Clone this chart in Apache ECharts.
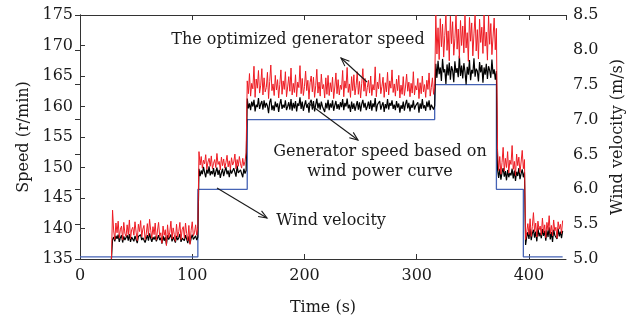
<!DOCTYPE html>
<html>
<head>
<meta charset="utf-8">
<script src="https://cdn.jsdelivr.net/npm/echarts@6/dist/echarts.min.js"></script>
<style>html,body{margin:0;background:#fff}#main{width:639px;height:321px}</style>
</head>
<body>
<div id="main"></div>
<script>
// sampled every 1 s starting at t = 28 s
const sampleStart = 28;
const sampleStep = 1;

// optimized generator speed (r/min)
const optimizedSpeed = [
  135, 143.0, 139.6, 138.2, 140.9, 139.3, 141.2, 138.5, 139.9, 140.4, 138.1, 141.0, 139.2,
  138.7, 140.6, 139.0, 141.4, 138.3, 139.8, 140.2, 138.9, 141.1, 139.4, 138.0, 140.7, 139.5,
  141.3, 138.6, 139.9, 140.5, 138.2, 139.1, 140.8, 138.8, 141.5, 139.7, 138.4, 140.3, 139.0,
  140.9, 138.1, 139.6, 141.0, 138.7, 139.3, 137.6, 140.4, 138.9, 139.8, 137.2, 140.6, 138.5,
  139.4, 141.2, 138.3, 140.1, 139.0, 137.9, 140.7, 138.6, 139.5, 141.0, 138.2, 139.8, 140.3,
  138.4, 140.9, 139.2, 138.0, 140.5, 137.4, 139.7, 141.1, 138.8, 139.3, 140.6, 138.9, 140.2,
  152.6, 150.4, 151.8, 149.9, 151.2, 150.6, 152.1, 149.7, 150.9, 151.5, 150.2, 151.9, 149.8, 150.7, 151.3,
  150.0, 152.3, 150.5, 151.0, 149.6, 151.7, 150.3, 151.4, 149.9, 150.8, 152.0, 150.1, 151.1, 149.7, 151.6,
  150.4, 150.9, 152.2, 149.8, 151.3, 150.2, 151.8, 150.6, 149.9, 151.5, 150.3, 151.0, 152.4,
  164.2, 162.1, 165.4, 161.7, 163.8, 162.9, 166.6, 161.5, 164.5, 163.0, 165.9, 162.2,
  163.5, 166.2, 161.9, 164.7, 162.4, 163.1, 165.6, 161.3, 164.1, 166.8, 162.6, 163.7,
  161.8, 165.1, 162.7, 164.4, 161.4, 163.6, 166.0, 162.0, 164.2, 162.8, 165.7, 161.6,
  163.2, 164.9, 162.5, 166.3, 161.9, 163.8, 162.3, 165.2, 161.6, 164.0, 163.1, 166.7,
  162.1, 164.6, 161.8, 163.3, 165.8, 162.6, 164.3, 161.2, 163.9, 165.0, 162.4, 164.8,
  161.5, 163.4, 166.1, 162.2, 164.0, 161.7, 165.3, 162.9, 163.6, 161.4, 164.7, 162.0,
  165.1, 161.8, 163.9, 162.4, 164.8, 161.3, 163.2, 165.5, 162.1, 164.4, 161.9, 163.5,
  162.8, 165.9, 161.6, 164.2, 163.0, 166.4, 162.3, 163.7, 161.5, 164.9, 162.6, 165.2,
  161.9, 163.4, 165.7, 162.0, 164.1, 161.4, 163.8, 166.2, 162.5, 164.6, 161.7, 163.1,
  164.3, 162.2, 165.0, 161.8, 163.6, 162.7, 166.5, 161.6, 164.0, 162.9, 165.4, 162.1,
  163.3, 164.8, 161.5, 163.9, 162.4, 165.6, 161.9, 164.2, 163.0, 166.0, 162.3, 163.7,
  161.7, 164.5, 162.6, 165.1, 161.4, 163.5, 162.0, 164.9, 161.8, 163.2, 165.3, 162.5,
  164.0, 161.6, 163.8, 162.2, 165.7, 161.9, 163.4, 162.7, 164.6, 161.3, 163.9, 162.1,
  165.0, 162.4, 163.6, 161.5, 164.3, 162.8, 165.5, 161.7, 163.1, 164.7, 162.0, 163.4,
  175.0, 168.6, 172.9, 167.7, 174.4, 169.8, 173.5, 168.1, 171.6, 175.0, 169.2,
  172.4, 167.5, 174.8, 170.3, 173.9, 168.4, 171.1, 175.0, 169.4, 172.7, 167.9,
  174.1, 170.0, 173.2, 168.8, 175.0, 169.6, 172.1, 167.4, 174.6, 170.7, 173.7,
  168.3, 171.9, 175.0, 169.1, 172.6, 167.8, 174.3, 170.5, 173.0, 168.7, 175.0,
  169.9, 172.2, 167.6, 174.9, 170.2, 173.6, 168.5, 171.4, 174.5, 169.3, 172.8,
  152.9, 149.5, 151.8, 148.9, 150.8, 153.3, 149.4, 151.5, 150.0, 152.6, 149.1, 151.2, 150.5,
  153.6, 149.7, 151.0, 148.7, 152.2, 150.3, 151.7, 149.2, 150.9, 152.8, 149.8, 151.3,
  138.2, 139.4, 140.8, 139.0, 141.6, 138.7, 140.3, 142.6, 139.5, 140.9, 138.6, 141.2, 139.8, 140.4, 138.9, 141.7, 139.3,
  140.6, 138.5, 141.0, 139.7, 142.1, 139.1, 140.5, 138.8, 141.4, 139.6, 140.2, 138.4, 141.1, 139.9, 140.7, 139.2, 141.3
];

// generator speed based on wind power curve (r/min)
const curveSpeed = [
  135, 138.2, 138.6, 137.9, 138.8, 138.3, 139.0, 137.8, 138.5, 138.9, 137.7, 138.7, 138.1,
  138.4, 138.9, 138.0, 139.1, 137.8, 138.6, 138.3, 137.9, 138.8, 138.2, 137.6, 138.7, 138.4,
  139.0, 138.1, 138.5, 138.8, 137.7, 138.3, 138.9, 138.0, 139.2, 138.4, 137.8, 138.6, 138.2,
  138.7, 137.9, 138.4, 138.9, 138.1, 138.5, 137.5, 138.8, 138.0, 138.6, 137.4, 138.9, 138.2,
  138.3, 139.0, 137.9, 138.6, 138.4, 137.7, 138.8, 138.1, 138.5, 139.1, 137.8, 138.4, 138.7,
  138.0, 138.9, 138.3, 137.6, 138.7, 137.5, 138.4, 139.0, 138.2, 138.5, 138.8, 138.1, 138.6,
  149.8, 148.6, 149.5, 148.9, 150.1, 149.2, 148.4, 149.7, 149.0, 150.2, 148.7, 149.4, 148.9, 149.9, 148.5,
  149.3, 150.0, 148.8, 149.6, 148.3, 149.1, 149.8, 148.6, 149.4, 150.1, 148.9, 149.5, 148.4, 149.7, 149.0,
  148.7, 149.9, 149.2, 148.5, 150.3, 149.1, 148.8, 149.6, 149.3, 148.4, 149.8, 149.0, 149.5,
  161.3, 159.7, 160.5, 159.4, 160.8, 160.0, 161.1, 159.2, 160.3, 159.9, 161.4, 159.6,
  160.4, 160.9, 159.5, 161.0, 159.8, 160.6, 160.1, 158.9, 160.7, 161.3, 159.4, 160.2,
  159.3, 160.8, 159.9, 160.5, 159.1, 160.4, 161.2, 159.6, 160.3, 159.8, 161.0, 159.4,
  160.0, 160.7, 159.5, 161.2, 159.3, 160.6, 159.7, 160.9, 159.2, 160.5, 160.1, 161.5,
  159.6, 160.8, 159.3, 160.2, 161.0, 159.8, 160.4, 159.0, 160.7, 161.1, 159.5, 160.9,
  159.2, 160.3, 161.3, 159.7, 160.6, 159.5, 160.8, 160.0, 160.2, 159.1, 160.6, 159.7,
  161.1, 159.4, 160.5, 159.8, 161.0, 159.3, 160.2, 160.9, 159.6, 160.4, 159.5, 160.7,
  159.9, 161.2, 159.4, 160.6, 160.0, 161.3, 159.7, 160.3, 159.1, 160.8, 159.6, 160.5,
  159.3, 160.1, 160.9, 159.5, 160.7, 159.2, 160.4, 161.1, 159.8, 160.6, 159.4, 160.0,
  160.8, 159.6, 161.0, 159.3, 160.5, 159.9, 161.4, 159.2, 160.3, 160.0, 160.9, 159.5,
  160.2, 160.7, 159.1, 160.4, 159.7, 161.2, 159.5, 160.6, 160.1, 161.0, 159.6, 160.3,
  159.4, 160.9, 159.8, 160.5, 159.0, 160.2, 159.6, 160.8, 159.3, 160.4, 161.1, 159.7,
  160.6, 159.2, 160.3, 159.8, 161.0, 159.5, 160.1, 159.9, 160.7, 159.0, 160.5, 159.6,
  161.2, 159.7, 160.2, 159.3, 160.8, 159.9, 161.0, 159.4, 160.3, 160.6, 159.5, 160.1,
  167.0, 164.7, 167.5, 165.3, 166.4, 164.2, 167.8, 165.6, 166.1, 163.7, 166.9,
  165.1, 167.2, 164.4, 166.6, 165.9, 164.0, 167.4, 165.5, 166.3, 164.8, 168.3,
  165.0, 166.7, 164.6, 167.1, 165.7, 163.6, 166.5, 165.2, 167.6, 164.3, 166.0,
  165.4, 167.9, 164.9, 166.2, 165.8, 164.1, 167.3, 165.6, 166.8, 163.9, 166.4,
  165.2, 167.0, 164.5, 166.6, 165.9, 164.7, 167.7, 165.3, 166.1, 164.4, 165.8,
  149.7, 148.3, 149.8, 148.0, 149.2, 149.9, 148.5, 149.4, 147.9, 149.6, 148.4, 149.1, 148.7,
  149.8, 148.2, 149.5, 147.8, 149.3, 148.6, 149.9, 148.1, 149.0, 149.7, 148.4, 149.2,
  137.3, 138.6, 139.4, 138.3, 140.0, 138.1, 139.2, 139.8, 138.5, 139.5, 137.9, 140.1, 138.7, 139.3, 138.4, 139.9, 138.8,
  139.6, 138.0, 139.7, 138.6, 140.2, 138.2, 139.4, 137.8, 139.8, 138.9, 139.1, 138.3, 140.0, 138.7, 139.5, 138.4, 139.6
];

// wind velocity steps (m/s), value holds from each time until the next
const windTime = [0, 105, 149, 316, 371, 395, 430];
const windVelocity = [5.03, 6.0, 7.0, 7.5, 6.0, 5.03, 5.03];

const speedTicks = {min: 135, max: 175, interval: 5};
const windTicks = {min: 5, max: 8.5, interval: 0.5};

const serif = '"DejaVu Serif", "Liberation Serif", serif';
const ink = '#1a1a1a';

function arrow(x1, y1, x2, y2) {
  const a = Math.atan2(y2 - y1, x2 - x1);
  const L = 9, w = 0.38;
  const p1 = [x2 - L * Math.cos(a - w), y2 - L * Math.sin(a - w)];
  const p2 = [x2 - L * Math.cos(a + w), y2 - L * Math.sin(a + w)];
  return [
    {type: 'line', shape: {x1: x1, y1: y1, x2: x2, y2: y2}, style: {stroke: ink, lineWidth: 1.1}, z: 100},
    {type: 'polyline', shape: {points: [p1, [x2, y2], p2]}, style: {stroke: ink, fill: null, lineWidth: 1.1}, z: 100},
  ];
}

function label(text, x, y) {
  return {
    type: 'text', x: x, y: y, z: 100,
    style: {text: text, font: '16px ' + serif, fill: ink, textAlign: 'center', textVerticalAlign: 'middle'},
  };
}

const toPairs = (vals) => vals.map((v, i) => [sampleStart + i * sampleStep, v]);

let chartDom = document.getElementById('main');
let myChart = echarts.init(chartDom);

const axisCommon = {
  axisLine: {show: true, lineStyle: {color: '#333', width: 1}},
  axisTick: {show: true, inside: true, length: 5, lineStyle: {color: '#333'}},
  splitLine: {show: false},
  nameTextStyle: {fontFamily: serif, fontSize: 16, color: ink},
};

let option = {
  animation: false,
  backgroundColor: '#fff',
  grid: {left: 80, right: 73, top: 15, bottom: 62},
  xAxis: [
    {
      ...axisCommon,
      type: 'value', min: 0, max: 433, interval: 100,
      name: 'Time (s)', nameLocation: 'middle', nameGap: 41,
      axisLabel: {fontFamily: serif, fontSize: 16, color: ink, margin: 9, showMaxLabel: false},
    },
    {
      ...axisCommon,
      type: 'value', min: 0, max: 433, interval: 100, position: 'top',
      axisLabel: {show: false},
    },
  ],
  yAxis: [
    {
      ...axisCommon,
      type: 'value', ...speedTicks,
      name: 'Speed (r/min)', nameLocation: 'middle', nameGap: 48,
      axisLabel: {fontFamily: serif, fontSize: 16, color: ink, margin: 7},
    },
    {
      ...axisCommon,
      type: 'value', ...windTicks, position: 'right',
      name: 'Wind velocity (m/s)', nameLocation: 'middle', nameGap: 40,
      axisLabel: {fontFamily: serif, fontSize: 16, color: ink, margin: 7, formatter: (v) => v.toFixed(1)},
    },
  ],
  series: [
    {
      name: 'Wind velocity', type: 'line', yAxisIndex: 1, step: 'end',
      data: windTime.map((t, i) => [t, windVelocity[i]]),
      symbol: 'none', lineStyle: {color: '#4563b5', width: 1.3}, z: 2,
    },
    {
      name: 'Generator speed based on wind power curve', type: 'line',
      data: toPairs(curveSpeed),
      symbol: 'none', lineStyle: {color: '#000', width: 1.2}, z: 3,
    },
    {
      name: 'The optimized generator speed', type: 'line',
      data: toPairs(optimizedSpeed),
      symbol: 'none', lineStyle: {color: '#ee1c24', width: 1}, z: 4,
    },
  ],
  graphic: [
    label('The optimized generator speed', 298, 40),
    ...arrow(367, 82, 341, 58),
    label('Generator speed based on', 380, 152),
    label('wind power curve', 380, 172),
    ...arrow(308, 103, 358, 140),
    label('Wind velocity', 331, 221),
    ...arrow(217, 188, 267, 218),
  ],
};

option && myChart.setOption(option);
</script>
</body>
</html>
